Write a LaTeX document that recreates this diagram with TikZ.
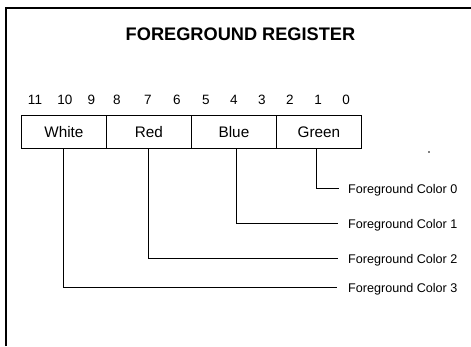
\documentclass[tikz,border=0pt]{standalone}
\usepackage{fontspec}
\setmainfont{Liberation Sans}
\begin{document}
\begin{tikzpicture}[x=1pt,y=-1pt,
  bitnum/.style={font=\fontsize{13.5}{13.5}\selectfont, inner sep=0pt, anchor=base},
  field/.style={draw, line width=0.9pt, minimum width=85pt, minimum height=33pt, inner sep=0pt, font=\fontsize{15.3}{15.3}\selectfont},
  lbl/.style={anchor=base west, inner sep=0pt, font=\fontsize{12.6}{12.6}\selectfont},
  conn/.style={line width=0.7pt}]
\useasboundingbox (0,0) rectangle (471,346);
% frame
\draw[line width=1.3pt] (6,346) -- (6,8) -- (471,8);
% title
\node[font=\bfseries\fontsize{18.2}{18.2}\selectfont, inner sep=0pt, anchor=base] (title) at (240.5,40) {FOREGROUND REGISTER};
% bit numbers
\foreach \n/\x in {11/35,10/65,9/91.5,8/117,7/148,6/177,5/206,4/234,3/262,2/290,1/318,0/346}
  \node[bitnum] (b\n) at (\x,104) {\n};
% fields
\node[field, anchor=north west] (white) at (21,115) {White};
\node[field, anchor=north west] (red) at (106,115) {Red};
\node[field, anchor=north west] (blue) at (191,115) {Blue};
\node[field, anchor=north west] (green) at (276,115) {Green};
% labels
\node[lbl] (c0) at (348,193) {Foreground Color 0};
\node[lbl] (c1) at (348,228) {Foreground Color 1};
\node[lbl] (c2) at (348,263) {Foreground Color 2};
\node[lbl] (c3) at (348,292) {Foreground Color 3};
% connectors
\coordinate (g0) at (316,188);
\coordinate (u1) at (236,223);
\coordinate (r2) at (148,258);
\coordinate (w3) at (63,287);
\coordinate (e0) at (339,188);
\coordinate (e1) at (338,223);
\coordinate (e2) at (338,258);
\coordinate (e3) at (337,287);
\draw[conn] (green.south -| g0) -- (g0) -- (e0);
\draw[conn] (blue.south -| u1) -- (u1) -- (e1);
\draw[conn] (red.south -| r2) -- (r2) -- (e2);
\draw[conn] (white.south -| w3) -- (w3) -- (e3);
% speck
\fill (429,152) circle (0.8pt);
\end{tikzpicture}
\end{document}
